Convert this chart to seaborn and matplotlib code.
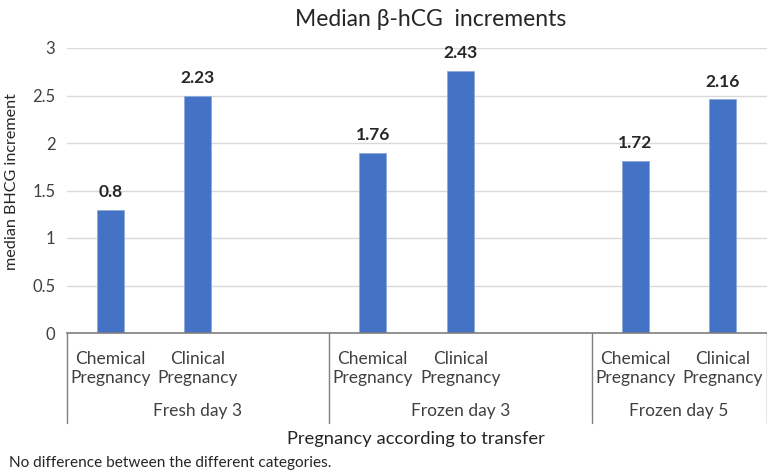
import pandas as pd
import seaborn as sns
import matplotlib.pyplot as plt

# values (bar heights differ from the printed labels there)
groups = ["Fresh day 3", "Frozen day 3", "Frozen day 5"]
kinds = ["Chemical\nPregnancy", "Clinical\nPregnancy"]
heights = [1.30, 2.50, 1.90, 2.76, 1.81, 2.46]
bar_labels = ["0.8", "2.23", "1.76", "2.43", "1.72", "2.16"]
y_ticks = [0, 0.5, 1, 1.5, 2, 2.5, 3]

sns.set_theme(style="white")
plt.rcParams['font.family'] = ['Lato', 'DejaVu Sans']

# each group gets its bars plus one empty slot, except the last one
slots = []
bounds = [0]
pos = 0
for g_index, group in enumerate(groups):
    for kind in kinds:
        slots.append(pos)
        pos += 1
    if g_index < len(groups) - 1:
        pos += 1
    bounds.append(pos)
n_slots = pos

rows = []
for i, slot in enumerate(slots):
    rows.append({"slot": slot, "group": groups[i // 2],
                 "kind": kinds[i % 2], "height": heights[i]})
df = pd.DataFrame(rows)

fig = plt.figure(figsize=(7.67, 4.74), dpi=100)
ax = fig.add_axes([66.5 / 767, 1 - 333 / 474, 700 / 767, 285 / 474])

sns.barplot(data=df, x="slot", y="height", order=list(range(n_slots)),
            color="#4472C4", saturation=1, width=0.31, ax=ax,
            edgecolor="#8faadc", linewidth=0.6)

ax.bar_label(ax.containers[0], labels=bar_labels, padding=7,
             fontsize=12.5, fontweight="bold", color="#262626")

ax.set_ylim(0, 3)
ax.set_xlim(-0.5, n_slots - 0.5)
ax.set_yticks(y_ticks)
ax.set_yticklabels([f"{t:g}" for t in y_ticks], fontsize=12, color="#404040")
ax.tick_params(axis="y", length=0, pad=8)
ax.yaxis.grid(True, color="#d9d9d9", linewidth=1)
ax.set_axisbelow(True)
for side in ["left", "right", "top"]:
    ax.spines[side].set_visible(False)
ax.spines["bottom"].set_color("#7f7f7f")
ax.spines["bottom"].set_linewidth(1.2)

# category labels + group labels under the axis
ax.set_xticks(slots)
ax.set_xticklabels([kinds[i % 2] for i in range(len(slots))],
                   fontsize=12.5, color="#404040", linespacing=1.25)
ax.tick_params(axis="x", length=0, pad=13)
ax.set_xlabel("")
ax.set_ylabel("median BHCG increment", fontsize=11.6, color="#262626")
ax.yaxis.set_label_coords(-0.068, 0.532)

trans = ax.get_xaxis_transform()
for b in bounds:
    ax.plot([b - 0.5, b - 0.5], [0, -0.315], transform=trans,
            color="#7f7f7f", linewidth=1, clip_on=False)
for g_index, group in enumerate(groups):
    mid = (bounds[g_index] + bounds[g_index + 1] - 1) / 2
    ax.text(mid, -0.275, group, transform=trans, ha="center", va="center",
            fontsize=12.5, color="#404040")

fig.text(431 / 767, 1 - 19 / 474, "Median \u03b2-hCG  increments",
         ha="center", va="center", fontsize=16.5, color="#262626")
fig.text(416 / 767, 1 - 439 / 474, "Pregnancy according to transfer",
         ha="center", va="center", fontsize=13.2, color="#262626")
fig.text(9 / 767, 1 - 463 / 474, "No difference between the different categories.",
         ha="left", va="center", fontsize=11.1, color="#262626")

fig.savefig("out.png", dpi=100, facecolor="white")
